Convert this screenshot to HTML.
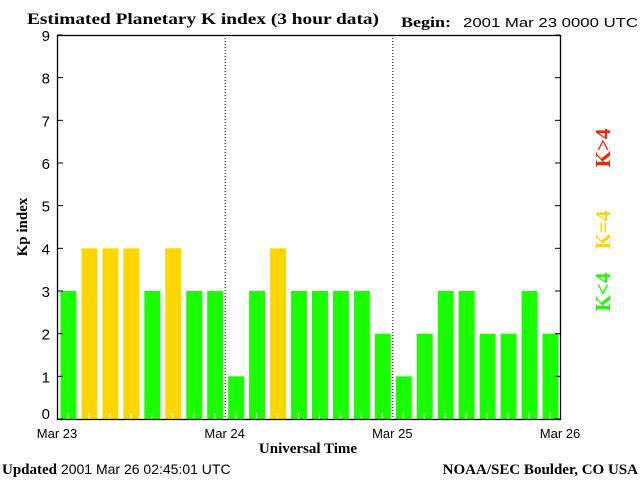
<!DOCTYPE html>
<html><head><meta charset="utf-8"><style>
body{margin:0;background:#fff}
svg{display:block}
text{font-family:"Liberation Sans",sans-serif;fill:#000}
.s{font-family:"Liberation Serif",serif;font-weight:bold}
</style></head><body>
<svg id="c" width="640" height="480">
<text class="s" x="27" y="24" font-size="16" textLength="352" lengthAdjust="spacingAndGlyphs">Estimated Planetary K index (3 hour data)</text>
<text class="s" x="401" y="27" font-size="15" textLength="50" lengthAdjust="spacingAndGlyphs">Begin:</text>
<text x="463" y="27" font-size="13" textLength="175" lengthAdjust="spacingAndGlyphs">2001 Mar 23 0000 UTC</text>
<text class="s" transform="translate(27,227) rotate(-90)" text-anchor="middle" font-size="15">Kp index</text>
<text class="s" x="308" y="453" text-anchor="middle" font-size="15">Universal Time</text>
<text x="2" y="474" font-size="14"><tspan class="s" font-size="15">Updated</tspan> 2001 Mar 26 02:45:01 UTC</text>
<text class="s" x="638" y="474" text-anchor="end" font-size="15">NOAA/SEC Boulder, CO USA</text>
<text class="s" transform="translate(610,148) rotate(-90)" text-anchor="middle" font-size="21" style="fill:#ff2000">K&gt;4</text>
<text class="s" transform="translate(610,230) rotate(-90)" text-anchor="middle" font-size="21" style="fill:#ffd700">K=4</text>
<text class="s" transform="translate(610,292) rotate(-90)" text-anchor="middle" font-size="21" style="fill:#1aff00">K&lt;4</text>
<g id="g"></g>
</svg>
<script>
const kpValues=[3,4,4,4,3,4,3,3, 1,3,4,3,3,3,3,2, 1,2,3,3,2,2,3,2];
const dayLabels=["Mar 23","Mar 24","Mar 25","Mar 26"];
const yTicks=[0,1,2,3,4,5,6,7,8,9];
const X0=57,X1=560,Y0=419,Y1=35,NS="http://www.w3.org/2000/svg";
const xs=i=>X0+(X1-X0)*i/kpValues.length;
const ys=v=>Y0-(Y0-Y1)*v/9;
const g=document.getElementById('g');
function el(t,a){const e=document.createElementNS(NS,t);for(const k in a)e.setAttribute(k,a[k]);g.appendChild(e);return e;}
const slot=(X1-X0)/kpValues.length;
kpValues.forEach((v,i)=>{
 const col=v>4?"#ff2000":v==4?"#ffd700":"#1aff00";
 const r=el('rect',{x:xs(i)+3.5,y:ys(v),width:slot-5,height:Y0-ys(v),fill:col});
 
 
 const t=el('line',{x1:xs(i)+slot/2+0.5,x2:xs(i)+slot/2+0.5,y1:Y0,y2:Y0-6,stroke:'#fff'});
 
 
});
const box=el('rect',{x:X0+0.5,y:Y1+0.5,width:X1-X0,height:Y0-Y1,fill:'none',stroke:'#000','stroke-width':1.3});


yTicks.forEach(v=>{
 const y=ys(v);
 el('line',{x1:X0,x2:X0+6,y1:y,y2:y,stroke:'#000'});
 el('line',{x1:X1-5,x2:X1,y1:y,y2:y,stroke:'#000'});
 const t=el('text',{x:50,y:y+(v==0?0:6),'text-anchor':'end','font-size':15});
 t.textContent=v;
 
 
});
dayLabels.forEach((d,i)=>{
 const x=X0+(X1-X0)*i/3;
 if(i>0&&i<3){const l=el('line',{x1:x+0.5,x2:x+0.5,y1:Y1,y2:Y0,stroke:'#000','stroke-dasharray':'1,2'});
  
  }
 const t=el('text',{x:x,y:438,'text-anchor':'middle','font-size':13});
 t.textContent=d;
 
 
});
</script>
</body></html>
